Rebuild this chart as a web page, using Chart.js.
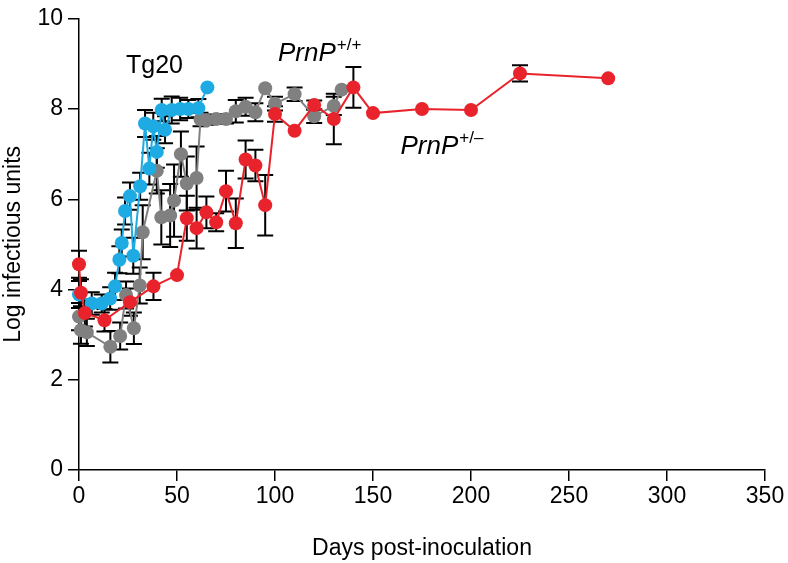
<!DOCTYPE html>
<html>
<head>
<meta charset="utf-8">
<script src="https://cdn.jsdelivr.net/npm/chart.js@4.4.1/dist/chart.umd.min.js"></script>
<style>
  html, body { margin: 0; padding: 0; background: #fff; }
  #wrap { width: 788px; height: 563px; position: relative; }
</style>
</head>
<body>
<div id="wrap"><canvas id="grafico"></canvas></div>
<script>
// Eixos
const xTicks = [0, 50, 100, 150, 200, 250, 300, 350];
const yTicks = [0, 2, 4, 6, 8, 10];

// PrnP +/- (vermelho)
const redDays = [0, 1, 3, 13, 26, 38, 50, 55, 60, 65, 70, 75, 80, 85, 90, 95, 100, 110, 120, 130, 140, 150, 175, 200, 225, 270];
const redValues = [4.56, 3.93, 3.48, 3.32, 3.72, 4.07, 4.32, 5.58, 5.36, 5.71, 5.49, 6.18, 5.47, 6.88, 6.75, 5.87, 7.89, 7.52, 8.09, 7.78, 8.48, 7.91, 8.0, 7.98, 8.79, 8.68];
const redErrors = [0.3, 0.3, 0.3, 0.25, 0.3, 0.3, 0, 0.5, 0.45, 0.35, 0.2, 0.45, 0.55, 0.42, 0.35, 0.67, 0.17, 0, 0.1, 0.56, 0.45, 0, 0, 0, 0.18, 0];

// Tg20 (azul)
const blueDays = [0, 6.5, 11.6, 15.9, 18.4, 20.6, 21.8, 23.5, 26, 27.7, 31.2, 33.7, 35.9, 37.9, 39.7, 42.2, 43.9, 47.3, 51.6, 55.8, 60.9, 65.5];
const blueValues = [3.89, 3.69, 3.69, 3.8, 4.07, 4.66, 5.03, 5.74, 6.07, 4.75, 6.29, 7.68, 6.68, 7.62, 7.05, 7.98, 7.54, 7.98, 8.0, 8.0, 8.02, 8.48];
const blueErrors = [0.3, 0.25, 0.2, 0.25, 0.3, 0.3, 0.3, 0.3, 0.3, 0.4, 0.3, 0.3, 0.35, 0.3, 0.35, 0.25, 0.3, 0.3, 0.25, 0.2, 0.2, 0];

// PrnP +/+ (cinza)
const grayDays = [0, 1, 4, 16, 21, 24, 28, 31, 32.5, 39.7, 42, 46.5, 48.5, 52, 55, 60, 62, 65, 70, 75, 80, 85, 90, 95, 100, 110, 120, 130, 134];
const grayValues = [3.4, 3.1, 3.05, 2.73, 2.97, 3.88, 3.14, 4.09, 5.27, 6.63, 5.6, 5.64, 5.97, 7.0, 6.35, 6.47, 7.77, 7.75, 7.78, 7.78, 7.95, 8.05, 7.93, 8.46, 8.12, 8.33, 7.84, 8.07, 8.43];
const grayErrors = [0.3, 0.3, 0.3, 0.35, 0.3, 0.3, 0.35, 0.4, 0.6, 0.5, 0.6, 0.7, 0.8, 0.5, 0.6, 0.7, 0.15, 0.1, 0.1, 0.1, 0.25, 0.2, 0.2, 0, 0.15, 0.15, 0.15, 0.2, 0];

const FONTE = "'Liberation Sans', Arial, Helvetica, sans-serif";

function pontos(dias, valores) {
  return dias.map((d, i) => ({ x: d, y: valores[i] }));
}

// Barras de erro desenhadas pelas escalas do gráfico
const barrasErro = {
  id: "barrasErro",
  beforeDatasetsDraw(chart) {
    const { ctx, scales: { x, y } } = chart;
    ctx.save();
    ctx.strokeStyle = "#000";
    ctx.lineWidth = 2;
    chart.data.datasets.forEach((ds) => {
      ds.data.forEach((p, i) => {
        const e = ds.erros[i];
        if (!e) return;
        const px = x.getPixelForValue(p.x);
        const topo = y.getPixelForValue(p.y + e);
        const base = y.getPixelForValue(p.y - e);
        ctx.beginPath();
        ctx.moveTo(px, topo); ctx.lineTo(px, base);
        ctx.moveTo(px - 8, topo); ctx.lineTo(px + 8, topo);
        ctx.moveTo(px - 8, base); ctx.lineTo(px + 8, base);
        ctx.stroke();
      });
    });
    ctx.restore();
  },
};

// Rótulos das séries
const rotulos = {
  id: "rotulos",
  afterDraw(chart) {
    const { ctx, scales: { x, y } } = chart;
    ctx.save();
    ctx.fillStyle = "#000";
    ctx.textBaseline = "alphabetic";
    ctx.textAlign = "left";

    ctx.font = `25px ${FONTE}`;
    ctx.fillText("Tg20", x.getPixelForValue(24), y.getPixelForValue(8.8));

    const escreveGenotipo = (dia, valor, sup) => {
      const px = x.getPixelForValue(dia);
      const py = y.getPixelForValue(valor);
      ctx.font = `italic 26px ${FONTE}`;
      ctx.fillText("PrnP", px, py);
      const w = ctx.measureText("PrnP").width;
      ctx.font = `17px ${FONTE}`;
      ctx.fillText(sup, px + w + 1, py - 11);
    };
    escreveGenotipo(101.5, 9.07, "+/+");
    escreveGenotipo(164, 7.0, "+/\u2013");
    ctx.restore();
  },
};

const serie = (label, cor, dados, erros) => ({
  label,
  data: dados,
  erros,
  borderColor: cor,
  backgroundColor: cor,
  borderWidth: 2,
  pointRadius: 7,
  pointHoverRadius: 7,
  pointBorderWidth: 0,
  tension: 0,
  clip: false,
});

const ctx = document.getElementById("grafico").getContext("2d");
new Chart(ctx, {
  type: "line",
  data: {
    datasets: [
      serie("PrnP+/-", "#e8232b", pontos(redDays, redValues), redErrors),
      serie("Tg20", "#1eaae2", pontos(blueDays, blueValues), blueErrors),
      serie("PrnP+/+", "#808080", pontos(grayDays, grayValues), grayErrors),
    ],
  },
  options: {
    responsive: true,
    maintainAspectRatio: false,
    animation: false,
    events: [],
    layout: { padding: { top: 15, right: 23, left: 0, bottom: 0 } },
    plugins: {
      legend: { display: false },
      tooltip: { enabled: false },
    },
    scales: {
      x: {
        type: "linear",
        min: 0,
        max: 350,
        afterBuildTicks: (s) => { s.ticks = xTicks.map((v) => ({ value: v })); },
        afterFit: (s) => { s.height = 93; },
        ticks: { color: "#000", padding: 2, font: { size: 23, family: FONTE } },
        grid: { drawOnChartArea: false, color: "#000", lineWidth: 1.5, tickLength: 11 },
        border: { color: "#000", width: 1.5 },
        title: {
          display: true,
          text: "Days post-inoculation",
          color: "#000",
          padding: { top: 0, bottom: 1 },
          font: { size: 23, family: FONTE },
        },
      },
      y: {
        type: "linear",
        min: 0,
        max: 10,
        afterBuildTicks: (s) => { s.ticks = yTicks.map((v) => ({ value: v })); },
        afterFit: (s) => { s.width = 79; },
        ticks: { color: "#000", padding: 5, font: { size: 23, family: FONTE } },
        grid: { drawOnChartArea: false, color: "#000", lineWidth: 1.5, tickLength: 11 },
        border: { color: "#000", width: 1.5 },
        title: {
          display: true,
          text: "Log infectious units",
          color: "#000",
          padding: { top: 0, bottom: 0 },
          font: { size: 23, family: FONTE },
        },
      },
    },
  },
  plugins: [barrasErro, rotulos],
});
</script>
</body>
</html>
